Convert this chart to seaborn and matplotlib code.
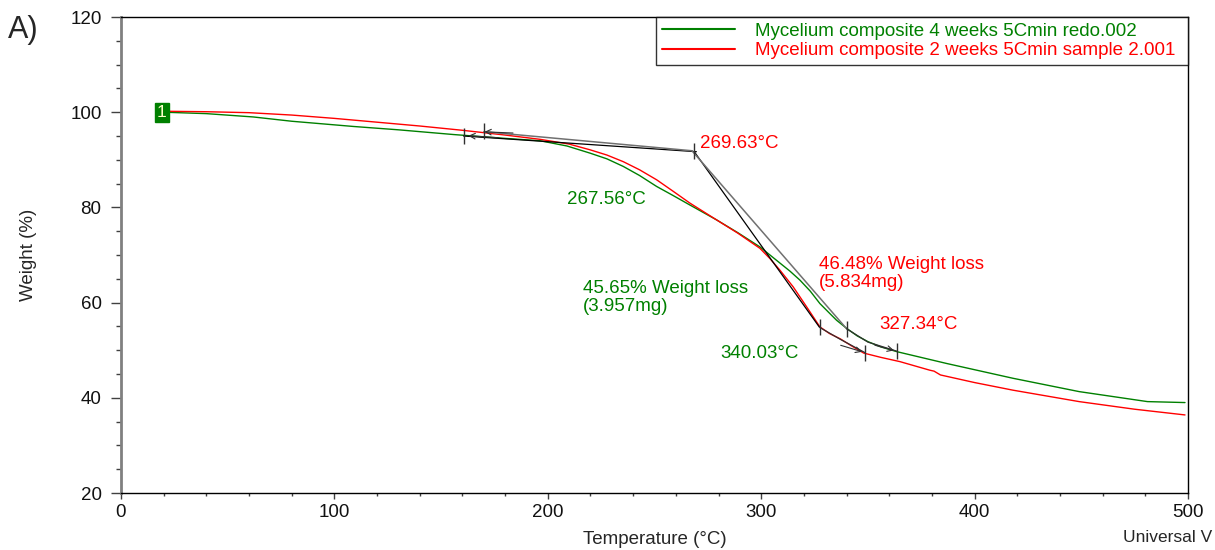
import matplotlib
matplotlib.use("Agg")
import matplotlib.pyplot as plt
import seaborn as sns
import pandas as pd
from matplotlib.ticker import MultipleLocator

# ---------------- data ----------------
temp_4w = [20, 40, 62, 80, 109, 130, 156, 180, 196.4, 209, 219.8, 227.7, 235.4, 243,
           251, 258.7, 266.6, 279, 289, 299.4, 308.8, 313.5, 318.2, 323, 327.5, 331.5,
           335.3, 340, 345, 350, 356, 363.5, 387, 418, 449, 481, 498.6]
weight_4w = [100.0, 99.7, 99.0, 98.1, 97.0, 96.3, 95.3, 94.5, 94.0, 92.9, 91.4, 90.2,
             88.6, 86.7, 84.4, 82.5, 80.5, 77.4, 74.7, 71.7, 68.3, 66.6, 64.7, 62.4,
             59.8, 58.0, 56.3, 54.6, 53.0, 51.8, 50.7, 49.7, 47.2, 44.1, 41.3, 39.2, 39.0]

temp_2w = [20, 40, 60, 80, 100, 120, 140, 160, 180, 196.4, 210, 219.8, 227.7, 235.4,
           243, 251, 258.7, 266.6, 279, 289, 299.4, 304, 308.8, 315, 321.3, 327.5, 332,
           337, 342, 348, 356, 365, 379, 381, 384, 400, 418, 449, 475, 498.6]
weight_2w = [100.2, 100.1, 99.9, 99.4, 98.7, 97.9, 97.1, 96.2, 95.2, 94.3, 93.3, 92.1,
             91.0, 89.6, 87.9, 85.8, 83.4, 80.9, 77.4, 74.6, 71.4, 69.3, 66.8, 63.3,
             59.1, 54.9, 53.5, 52.4, 51.0, 49.4, 48.5, 47.6, 45.8, 45.6, 44.8, 43.2,
             41.6, 39.2, 37.6, 36.4]

series_labels = ["Mycelium composite 4 weeks 5Cmin redo.002",
                 "Mycelium composite 2 weeks 5Cmin sample 2.001"]
series_colors = ["#008000", "#ff0000"]

# onset / end analysis values
onset_2w = (269.63, 91.7)
onset_4w = (267.56, 91.9)
end_2w = (327.34, 54.8)
end_4w = (340.03, 54.5)
start_tick_2w = (160.5, 95.1)
start_tick_4w = (170.0, 96.1)
stop_tick_2w = (348.6, 49.5)
stop_tick_4w = (363.5, 49.8)

x_ticks = [0, 100, 200, 300, 400, 500]
y_ticks = [20, 40, 60, 80, 100, 120]

# ---------------- style ----------------
sns.set_style("white")
plt.rcParams["font.family"] = ["Liberation Sans", "DejaVu Sans"]
FS = 13.5
plt.rcParams["font.size"] = FS

fig = plt.figure(figsize=(12.15, 5.5), dpi=100)
ax = fig.add_axes([121 / 1215, 1 - 493 / 550, 1067 / 1215, 476 / 550])

df4 = pd.DataFrame({"Temperature": temp_4w, "Weight": weight_4w})
df2 = pd.DataFrame({"Temperature": temp_2w, "Weight": weight_2w})
sns.lineplot(data=df4, x="Temperature", y="Weight", color=series_colors[0],
             lw=1.0, ax=ax, label=series_labels[0], sort=True)
sns.lineplot(data=df2, x="Temperature", y="Weight", color=series_colors[1],
             lw=1.0, ax=ax, label=series_labels[1], sort=True)

# tangent / analysis lines
ax.plot([start_tick_2w[0], onset_2w[0]], [start_tick_2w[1] - 0.1, onset_2w[1]], color="black", lw=0.9)
ax.plot([start_tick_4w[0], onset_4w[0]], [start_tick_4w[1] - 0.2, onset_4w[1]], color="#707070", lw=1.1)
ax.plot([onset_2w[0] - 1, end_2w[0]], [onset_2w[1], end_2w[1]], color="black", lw=0.9)
ax.plot([onset_4w[0], end_4w[0]], [onset_4w[1], end_4w[1]], color="#707070", lw=1.1)
ax.plot([end_2w[0], 337, stop_tick_2w[0]], [end_2w[1], 52.3, stop_tick_2w[1]], color="#303030", lw=0.9)
ax.plot([end_4w[0], 350, stop_tick_4w[0]], [end_4w[1], 51.7, stop_tick_4w[1]], color="#303030", lw=0.9)

# tick marks on the curves
tick_pts = [start_tick_2w, start_tick_4w, (268.5, 91.8), end_2w, end_4w, stop_tick_2w, stop_tick_4w]
for (tx, ty) in tick_pts:
    ax.plot([tx], [ty], marker="|", markersize=11, color="#303030", mew=1.0)

# small arrows
arrow_kw = dict(arrowstyle="->", color="#303030", lw=0.8, mutation_scale=10)
ax.annotate("", xy=stop_tick_2w, xytext=(336, 51.2), arrowprops=arrow_kw)
ax.annotate("", xy=stop_tick_4w, xytext=(352, 51.2), arrowprops=arrow_kw)
ax.annotate("", xy=(start_tick_2w[0] + 1, start_tick_2w[1]), xytext=(178, 94.6), arrowprops=arrow_kw)
ax.annotate("", xy=(start_tick_4w[0] - 1, start_tick_4w[1] - 0.2), xytext=(185, 95.6), arrowprops=arrow_kw)

# annotations
ax.text(271.3, 93.5, "269.63°C", color=series_colors[1], va="center", ha="left", fontsize=FS)
ax.text(209.0, 81.6, "267.56°C", color=series_colors[0], va="center", ha="left", fontsize=FS)
ax.text(216.5, 61.1, "45.65% Weight loss\n(3.957mg)", color=series_colors[0],
        va="center", ha="left", linespacing=1.05, fontsize=FS)
ax.text(327.0, 66.1, "46.48% Weight loss\n(5.834mg)", color=series_colors[1],
        va="center", ha="left", linespacing=1.05, fontsize=FS)
ax.text(355.2, 55.5, "327.34°C", color=series_colors[1], va="center", ha="left", fontsize=FS)
ax.text(280.7, 49.4, "340.03°C", color=series_colors[0], va="center", ha="left", fontsize=FS)

# "1" marker
ax.text(19, 100, "1", color="#ffffcc", fontsize=12.5, ha="center", va="center",
        bbox=dict(boxstyle="square,pad=0.12", facecolor="#008000", edgecolor="#008000"))

# axes
ax.set_xlim(0, 500)
ax.set_ylim(20, 120)
ax.set_xticks(x_ticks)
ax.set_yticks(y_ticks)
ax.xaxis.set_minor_locator(MultipleLocator(20))
ax.yaxis.set_minor_locator(MultipleLocator(5))
ax.tick_params(axis="y", which="major", direction="out", length=7, width=1, color="#404040", pad=7, left=True)
ax.tick_params(axis="y", which="minor", direction="out", length=3.5, width=1, color="#404040", left=True)
ax.tick_params(axis="x", which="major", direction="out", length=4, width=1, color="#404040", pad=4, bottom=True)
ax.tick_params(axis="x", which="minor", direction="out", length=2.5, width=1, color="#404040", bottom=True)
ax.tick_params(labelsize=FS, labelcolor="#111111")

for s in ["top", "right", "bottom"]:
    ax.spines[s].set_color("black")
    ax.spines[s].set_linewidth(1.0)
ax.spines["left"].set_color("#808080")
ax.spines["left"].set_linewidth(2.0)

ax.set_xlabel("Temperature (°C)", fontsize=FS)
ax.set_ylabel("Weight (%)", fontsize=FS)
ax.xaxis.set_label_coords(0.5005, -0.079)
ax.yaxis.set_label_coords(-0.079, 0.5)

leg = ax.legend(loc="upper left", bbox_to_anchor=(0.5014, 0.5, 0.4986, 0.5), mode="expand",
                borderaxespad=0, frameon=True, fancybox=False, edgecolor="black",
                handlelength=3.9, handletextpad=1.1, labelspacing=0.12, borderpad=0.3,
                fontsize=FS, labelcolor="linecolor")
leg.get_frame().set_linewidth(1.0)
for h in leg.legend_handles:
    h.set_linewidth(1.5)

fig.text(8 / 1215, 1 - 30 / 550, "A)", fontsize=22, va="center", ha="left")
fig.text(1212 / 1215, 1 - 538 / 550, "Universal V", fontsize=12.5, va="center", ha="right")

fig.savefig("out.png", dpi=100)
